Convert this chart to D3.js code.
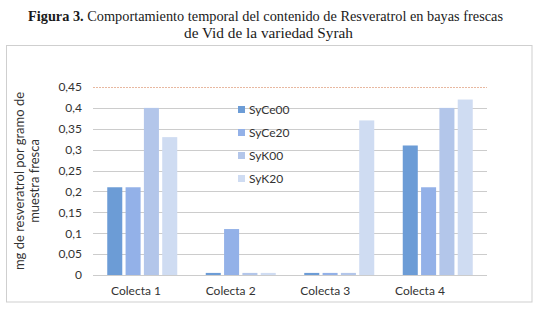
<!DOCTYPE html>
<html>
<head>
<meta charset="utf-8">
<script src="https://cdn.jsdelivr.net/npm/d3@7"></script>
<style>
  html, body { margin: 0; padding: 0; background: #fff; }
  svg { display: block; }
</style>
</head>
<body>
<script>
// ---- Data ----
const categories = ["Colecta 1", "Colecta 2", "Colecta 3", "Colecta 4"];
const seriesNames = ["SyCe00", "SyCe20", "SyK00", "SyK20"];
const SyCe00 = [0.21, 0.005, 0.005, 0.31];
const SyCe20 = [0.21, 0.11, 0.005, 0.21];
const SyK00  = [0.40, 0.005, 0.005, 0.40];
const SyK20  = [0.33, 0.005, 0.37, 0.42];
const yTicks = [0, 0.05, 0.1, 0.15, 0.2, 0.25, 0.3, 0.35, 0.4, 0.45];
const titleBold = "Figura 3.";
const titleLine1 = " Comportamiento temporal del contenido de Resveratrol en bayas frescas";
const titleLine2 = "de Vid de la variedad Syrah";
const yTitle = ["mg de resveratrol por gramo de", "muestra fresca"];

const seriesValues = [SyCe00, SyCe20, SyK00, SyK20];
const colors = ["#6c9cd6", "#93b1e8", "#b3c6ea", "#cfdcf2"];

const W = 545, H = 334;
const svg = d3.select("body").append("svg").attr("width", W).attr("height", H);

// Title
const t1 = svg.append("text")
  .attr("x", 28).attr("y", 21)
  .attr("font-family", "'Liberation Serif', 'DejaVu Serif', serif")
  .attr("font-size", 15).attr("fill", "#1a1a1a")
  .attr("textLength", 475).attr("lengthAdjust", "spacingAndGlyphs");
t1.append("tspan").attr("font-weight", "bold").text(titleBold);
t1.append("tspan").text(titleLine1);
svg.append("text")
  .attr("x", 184).attr("y", 37.5)
  .attr("font-family", "'Liberation Serif', 'DejaVu Serif', serif")
  .attr("font-size", 15).attr("fill", "#1a1a1a")
  .attr("textLength", 169).attr("lengthAdjust", "spacingAndGlyphs")
  .text(titleLine2);

// Chart frame
svg.append("rect")
  .attr("x", 6.5).attr("y", 45.5).attr("width", 525.5).attr("height", 256.5)
  .attr("fill", "#fff").attr("stroke", "#cfcfcf").attr("stroke-width", 1);

// Scales
const plotL = 93, plotR = 487;
const y = d3.scaleLinear().domain([0, 0.45]).range([275, 87]);
const x = d3.scaleBand().domain(categories).range([plotL, plotR]).paddingInner(0).paddingOuter(0);
const xs = d3.scaleBand().domain(d3.range(seriesNames.length)).range([0, 70]).paddingInner(0.18);
// Category labels (slightly offset in the reference)
const xl = d3.scaleBand().domain(categories).range([88.7, 467.3]);

const fmt = v => (+v.toFixed(2)).toString().replace(".", ",");

// Gridlines
svg.append("g").selectAll("line").data(yTicks).join("line")
  .attr("x1", plotL).attr("x2", plotR)
  .attr("y1", d => Math.round(y(d)) + 0.5).attr("y2", d => Math.round(y(d)) + 0.5)
  .attr("stroke", d => d === 0.45 ? "#e8b8a0" : "#cccccc")
  .attr("stroke-dasharray", d => d === 0.45 ? "2,1" : null)
  .attr("stroke-width", 1);

// Y axis labels
const yAxis = d3.axisLeft(y).tickValues(yTicks).tickFormat(fmt).tickSize(0).tickPadding(0);
const gy = svg.append("g").attr("transform", "translate(82,0)").call(yAxis);
gy.select(".domain").remove();
gy.selectAll("text").attr("font-family", "Lato, 'Open Sans', sans-serif").attr("font-size", 12).attr("fill", "#333");

// Bars
const groups = svg.append("g").selectAll("g").data(categories).join("g")
  .attr("transform", d => `translate(${x(d) + (x.bandwidth() - 70) / 2},0)`);
groups.selectAll("rect").data((c, ci) => seriesValues.map((s, si) => ({si, v: s[ci]}))).join("rect")
  .attr("x", d => xs(d.si))
  .attr("width", xs.bandwidth())
  .attr("y", d => y(d.v))
  .attr("height", d => y(0) - y(d.v))
  .attr("fill", d => colors[d.si]);

// X axis labels
const xAxis = d3.axisBottom(xl).tickSize(0).tickPadding(0);
const gx = svg.append("g").attr("transform", "translate(0,286)").call(xAxis);
gx.select(".domain").remove();
gx.selectAll("text").attr("font-family", "Lato, 'Open Sans', sans-serif").attr("font-size", 12).attr("fill", "#333");

// Legend
const leg = svg.append("g").selectAll("g").data(seriesNames).join("g")
  .attr("transform", (d, i) => `translate(238,${110 + i * 23})`);
leg.append("rect").attr("x", 0).attr("y", -4).attr("width", 7).attr("height", 7)
  .attr("fill", (d, i) => colors[i]);
leg.append("text").attr("x", 11).attr("y", 4)
  .attr("font-family", "Lato, 'Open Sans', sans-serif").attr("font-size", 12).attr("fill", "#333")
  .text(d => d);

// Y title
const yt = svg.append("text")
  .attr("transform", "translate(0,181) rotate(-90)")
  .attr("text-anchor", "middle")
  .attr("font-family", "Lato, 'Open Sans', sans-serif").attr("font-size", 13).attr("fill", "#333");
yt.append("tspan").attr("x", 0).attr("y", 24).text(yTitle[0]);
yt.append("tspan").attr("x", 0).attr("y", 39).text(yTitle[1]);
</script>
</body>
</html>
